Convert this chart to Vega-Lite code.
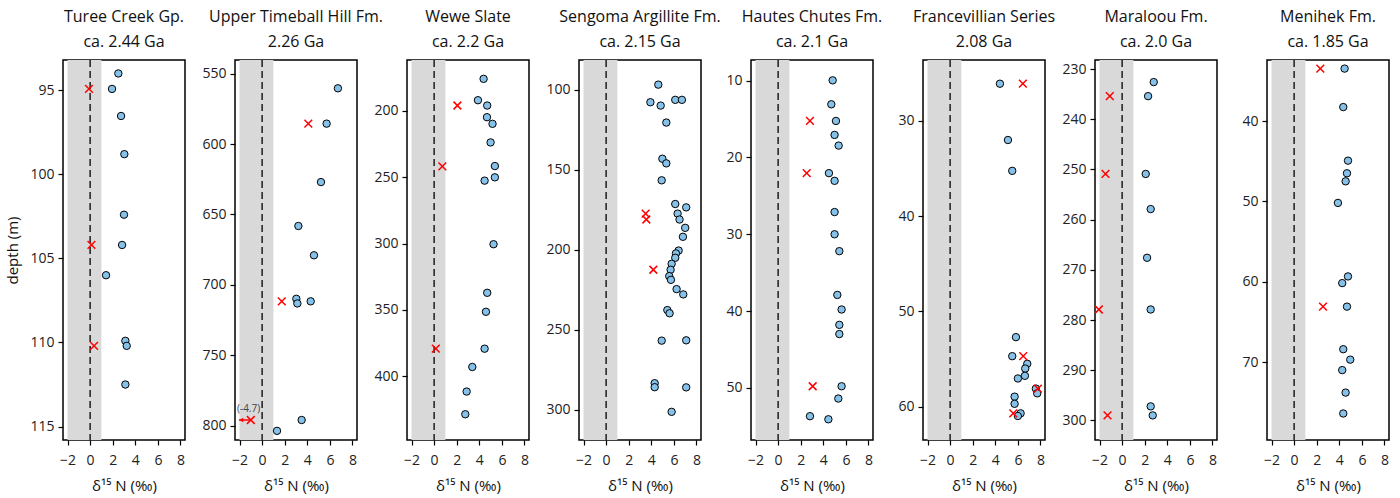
{
  "$schema": "https://vega.github.io/schema/vega-lite/v6.json",
  "padding": {"left": 5, "top": 8, "right": 5, "bottom": 0},
  "background": "white",
  "spacing": 50,
  "bounds": "flush",
  "config": {
    "font": "Open Sans",
    "view": {"stroke": "black", "strokeWidth": 1.5},
    "axis": {"grid": false, "domain": false, "format": "d", "tickColor": "black", "tickWidth": 1.2, "tickSize": 5, "tickCount": 20, "labelFont": "Open Sans", "labelFontSize": 14, "labelColor": "#222", "labelPadding": 4, "titleFont": "Open Sans", "titleFontSize": 15, "titleFontWeight": "normal", "titleColor": "#111", "labelOverlap": false, "labelFlush": false},
    "axisX": {"titlePadding": 11, "labelPadding": 8},
    "axisY": {"titlePadding": 9},
    "title": {"font": "Open Sans", "fontSize": 16, "fontWeight": "normal", "color": "#111", "lineHeight": 25, "offset": 9}
  },
  "datasets": {
    "pts": [
      {"p":1,"t":"c","n":2.5,"d":94.0},{"p":1,"t":"c","n":1.94,"d":94.92},{"p":1,"t":"x","n":-0.1,"d":94.92},{"p":1,"t":"c","n":2.74,"d":96.53},{"p":1,"t":"c","n":3.03,"d":98.8},{"p":1,"t":"c","n":3.0,"d":102.4},{"p":1,"t":"c","n":2.83,"d":104.2},{"p":1,"t":"x","n":0.12,"d":104.2},{"p":1,"t":"c","n":1.41,"d":106.0},{"p":1,"t":"c","n":3.12,"d":109.9},{"p":1,"t":"c","n":3.24,"d":110.2},{"p":1,"t":"x","n":0.35,"d":110.2},{"p":1,"t":"c","n":3.12,"d":112.5},
      {"p":2,"t":"c","n":6.71,"d":560.4},{"p":2,"t":"c","n":5.71,"d":585.5},{"p":2,"t":"x","n":4.09,"d":585.5},{"p":2,"t":"c","n":5.21,"d":627},{"p":2,"t":"c","n":3.21,"d":658.2},{"p":2,"t":"c","n":4.59,"d":679},{"p":2,"t":"c","n":3.03,"d":709.9},{"p":2,"t":"c","n":3.12,"d":713.2},{"p":2,"t":"c","n":4.3,"d":711.7},{"p":2,"t":"x","n":1.74,"d":711.7},{"p":2,"t":"c","n":3.5,"d":796},{"p":2,"t":"x","n":-1.0,"d":796},{"p":2,"t":"c","n":1.32,"d":803.7},
      {"p":3,"t":"c","n":4.38,"d":175.9},{"p":3,"t":"c","n":3.88,"d":192},{"p":3,"t":"c","n":4.7,"d":196},{"p":3,"t":"x","n":2.06,"d":196},{"p":3,"t":"c","n":4.68,"d":204.8},{"p":3,"t":"c","n":5.17,"d":209.8},{"p":3,"t":"c","n":5.0,"d":223.8},{"p":3,"t":"c","n":5.38,"d":241.6},{"p":3,"t":"x","n":0.73,"d":241.8},{"p":3,"t":"c","n":5.38,"d":250.1},{"p":3,"t":"c","n":4.47,"d":252.6},{"p":3,"t":"c","n":5.26,"d":300.5},{"p":3,"t":"c","n":4.7,"d":337.1},{"p":3,"t":"c","n":4.59,"d":351.4},{"p":3,"t":"c","n":4.47,"d":379.2},{"p":3,"t":"x","n":0.15,"d":379.2},{"p":3,"t":"c","n":3.38,"d":393},{"p":3,"t":"c","n":2.88,"d":411.5},{"p":3,"t":"c","n":2.76,"d":428.6},
      {"p":4,"t":"c","n":4.62,"d":96.9},{"p":4,"t":"c","n":3.92,"d":107.9},{"p":4,"t":"c","n":4.83,"d":110.0},{"p":4,"t":"c","n":6.12,"d":106.4},{"p":4,"t":"c","n":6.71,"d":106.4},{"p":4,"t":"c","n":5.33,"d":120.6},{"p":4,"t":"c","n":4.98,"d":143.2},{"p":4,"t":"c","n":5.33,"d":146.1},{"p":4,"t":"c","n":4.92,"d":156.7},{"p":4,"t":"c","n":6.12,"d":171.5},{"p":4,"t":"c","n":7.09,"d":173.6},{"p":4,"t":"c","n":6.33,"d":177.5},{"p":4,"t":"x","n":3.5,"d":177.5},{"p":4,"t":"x","n":3.56,"d":181.2},{"p":4,"t":"c","n":6.5,"d":181.2},{"p":4,"t":"c","n":7.0,"d":186.4},{"p":4,"t":"c","n":6.8,"d":192.0},{"p":4,"t":"c","n":6.42,"d":200.6},{"p":4,"t":"c","n":6.18,"d":202.4},{"p":4,"t":"c","n":6.12,"d":205.1},{"p":4,"t":"c","n":5.8,"d":208.9},{"p":4,"t":"c","n":5.71,"d":212.6},{"p":4,"t":"x","n":4.18,"d":212.6},{"p":4,"t":"c","n":5.59,"d":216.6},{"p":4,"t":"c","n":5.74,"d":218.9},{"p":4,"t":"c","n":6.24,"d":224.7},{"p":4,"t":"c","n":6.83,"d":228.0},{"p":4,"t":"c","n":5.42,"d":237.8},{"p":4,"t":"c","n":5.62,"d":239.8},{"p":4,"t":"c","n":4.92,"d":256.9},{"p":4,"t":"c","n":7.09,"d":256.7},{"p":4,"t":"c","n":4.3,"d":283.5},{"p":4,"t":"c","n":4.3,"d":286.0},{"p":4,"t":"c","n":7.09,"d":286.1},{"p":4,"t":"c","n":5.8,"d":301.4},
      {"p":5,"t":"c","n":4.83,"d":9.95},{"p":5,"t":"c","n":4.71,"d":13.07},{"p":5,"t":"c","n":5.12,"d":15.24},{"p":5,"t":"x","n":2.82,"d":15.24},{"p":5,"t":"c","n":5.0,"d":17.06},{"p":5,"t":"c","n":5.36,"d":18.45},{"p":5,"t":"c","n":4.5,"d":22.04},{"p":5,"t":"x","n":2.53,"d":22.04},{"p":5,"t":"c","n":5.0,"d":23.04},{"p":5,"t":"c","n":5.0,"d":27.11},{"p":5,"t":"c","n":5.0,"d":30.0},{"p":5,"t":"c","n":5.42,"d":32.2},{"p":5,"t":"c","n":5.24,"d":37.9},{"p":5,"t":"c","n":5.62,"d":39.8},{"p":5,"t":"c","n":5.42,"d":41.8},{"p":5,"t":"c","n":5.42,"d":43.0},{"p":5,"t":"c","n":5.62,"d":49.8},{"p":5,"t":"x","n":3.06,"d":49.8},{"p":5,"t":"c","n":5.33,"d":51.4},{"p":5,"t":"c","n":2.82,"d":53.7},{"p":5,"t":"c","n":4.45,"d":54.1},
      {"p":6,"t":"c","n":4.41,"d":26.09},{"p":6,"t":"x","n":6.44,"d":26.09},{"p":6,"t":"c","n":5.12,"d":32.0},{"p":6,"t":"c","n":5.5,"d":35.24},{"p":6,"t":"c","n":5.83,"d":52.7},{"p":6,"t":"c","n":5.5,"d":54.7},{"p":6,"t":"x","n":6.47,"d":54.7},{"p":6,"t":"c","n":6.83,"d":55.5},{"p":6,"t":"c","n":6.65,"d":56.0},{"p":6,"t":"c","n":6.62,"d":56.76},{"p":6,"t":"c","n":6.0,"d":57.04},{"p":6,"t":"c","n":7.59,"d":58.1},{"p":6,"t":"x","n":7.77,"d":58.1},{"p":6,"t":"c","n":7.71,"d":58.6},{"p":6,"t":"c","n":5.71,"d":58.95},{"p":6,"t":"c","n":5.71,"d":59.7},{"p":6,"t":"x","n":5.59,"d":60.7},{"p":6,"t":"c","n":6.24,"d":60.7},{"p":6,"t":"c","n":6.0,"d":60.98},
      {"p":7,"t":"c","n":2.8,"d":232.6},{"p":7,"t":"c","n":2.3,"d":235.4},{"p":7,"t":"x","n":-1.09,"d":235.4},{"p":7,"t":"c","n":2.09,"d":250.9},{"p":7,"t":"x","n":-1.47,"d":250.9},{"p":7,"t":"c","n":2.53,"d":257.9},{"p":7,"t":"c","n":2.21,"d":267.6},{"p":7,"t":"c","n":2.53,"d":277.9},{"p":7,"t":"x","n":-2.06,"d":277.9},{"p":7,"t":"c","n":2.53,"d":297.2},{"p":7,"t":"c","n":2.71,"d":299.0},{"p":7,"t":"x","n":-1.29,"d":299.0},
      {"p":8,"t":"c","n":4.47,"d":33.47},{"p":8,"t":"x","n":2.32,"d":33.47},{"p":8,"t":"c","n":4.35,"d":38.26},{"p":8,"t":"c","n":4.77,"d":44.93},{"p":8,"t":"c","n":4.68,"d":46.5},{"p":8,"t":"c","n":4.56,"d":47.5},{"p":8,"t":"c","n":3.88,"d":50.19},{"p":8,"t":"c","n":4.77,"d":59.34},{"p":8,"t":"c","n":4.26,"d":60.17},{"p":8,"t":"c","n":4.68,"d":63.1},{"p":8,"t":"x","n":2.56,"d":63.1},{"p":8,"t":"c","n":4.35,"d":68.4},{"p":8,"t":"c","n":4.97,"d":69.7},{"p":8,"t":"c","n":4.26,"d":71.0},{"p":8,"t":"c","n":4.56,"d":73.8},{"p":8,"t":"c","n":4.35,"d":76.4}
    ]
  },
  "hconcat": [
    {
      "width": 122, "height": 380,
      "title": {"text": ["Turee Creek Gp.", "ca. 2.44 Ga"]},
      "layer": [
        {"data": {"values": [{"lo": -2, "hi": 1}]}, "mark": {"type": "rect", "color": "#d9d9d9"}, "encoding": {"x": {"field": "lo", "type": "quantitative", "scale": {"domain": [-2.4, 8.4], "nice": false, "zero": false}, "axis": {"values": [-2, 0, 2, 4, 6, 8], "title": "δ¹⁵ N (‰)"}}, "x2": {"field": "hi"}}},
        {"data": {"values": [{"z": 0}]}, "mark": {"type": "rule", "strokeDash": [7, 4], "color": "black", "strokeWidth": 1.3}, "encoding": {"x": {"field": "z", "type": "quantitative"}}},
        {"data": {"name": "pts"}, "transform": [{"filter": "datum.p == 1 && datum.t == 'c'"}], "mark": {"type": "point", "shape": "circle", "filled": true, "fill": "#85c1e9", "stroke": "black", "strokeWidth": 1, "size": 55, "opacity": 1}, "encoding": {"x": {"field": "n", "type": "quantitative"}, "y": {"field": "d", "type": "quantitative", "scale": {"domain": [93.2, 115.8], "reverse": true, "nice": false, "zero": false}, "axis": {"values": [95, 100, 105, 110, 115], "title": "depth (m)"}}}},
        {"data": {"name": "pts"}, "transform": [{"filter": "datum.p == 1 && datum.t == 'x'"}], "mark": {"type": "point", "shape": "M-1,-1L1,1M-1,1L1,-1", "filled": false, "stroke": "red", "strokeWidth": 1.5, "size": 60, "opacity": 1}, "encoding": {"x": {"field": "n", "type": "quantitative"}, "y": {"field": "d", "type": "quantitative"}}}
      ]
    },
    {
      "width": 122, "height": 380,
      "title": {"text": ["Upper Timeball Hill Fm.", "2.26 Ga"]},
      "layer": [
        {"data": {"values": [{"lo": -2, "hi": 1}]}, "mark": {"type": "rect", "color": "#d9d9d9"}, "encoding": {"x": {"field": "lo", "type": "quantitative", "scale": {"domain": [-2.4, 8.4], "nice": false, "zero": false}, "axis": {"values": [-2, 0, 2, 4, 6, 8], "title": "δ¹⁵ N (‰)"}}, "x2": {"field": "hi"}}},
        {"data": {"values": [{"z": 0}]}, "mark": {"type": "rule", "strokeDash": [7, 4], "color": "black", "strokeWidth": 1.3}, "encoding": {"x": {"field": "z", "type": "quantitative"}}},
        {"data": {"name": "pts"}, "transform": [{"filter": "datum.p == 2 && datum.t == 'c'"}], "mark": {"type": "point", "shape": "circle", "filled": true, "fill": "#85c1e9", "stroke": "black", "strokeWidth": 1, "size": 55, "opacity": 1}, "encoding": {"x": {"field": "n", "type": "quantitative"}, "y": {"field": "d", "type": "quantitative", "scale": {"domain": [540.3, 810.2], "reverse": true, "nice": false, "zero": false}, "axis": {"values": [550, 600, 650, 700, 750, 800], "title": null}}}},
        {"data": {"values": [{"a": -1.0, "b": -2.05, "d": 796}]}, "mark": {"type": "rule", "color": "red", "strokeWidth": 1.5}, "encoding": {"x": {"field": "a", "type": "quantitative"}, "x2": {"field": "b"}, "y": {"field": "d", "type": "quantitative"}}},
        {"data": {"values": [{"b": -1.85, "d": 796}]}, "mark": {"type": "point", "shape": "triangle-left", "filled": true, "color": "red", "size": 22, "opacity": 1}, "encoding": {"x": {"field": "b", "type": "quantitative"}, "y": {"field": "d", "type": "quantitative"}}},
        {"data": {"values": [{"b": -1.2, "d": 788.5, "s": "(-4.7)"}]}, "mark": {"type": "text", "fontSize": 10, "color": "#444", "font": "Open Sans"}, "encoding": {"x": {"field": "b", "type": "quantitative"}, "y": {"field": "d", "type": "quantitative"}, "text": {"field": "s"}}},
        {"data": {"name": "pts"}, "transform": [{"filter": "datum.p == 2 && datum.t == 'x'"}], "mark": {"type": "point", "shape": "M-1,-1L1,1M-1,1L1,-1", "filled": false, "stroke": "red", "strokeWidth": 1.5, "size": 60, "opacity": 1}, "encoding": {"x": {"field": "n", "type": "quantitative"}, "y": {"field": "d", "type": "quantitative"}}}
      ]
    },
    {
      "width": 122, "height": 380,
      "title": {"text": ["Wewe Slate", "ca. 2.2 Ga"]},
      "layer": [
        {"data": {"values": [{"lo": -2, "hi": 1}]}, "mark": {"type": "rect", "color": "#d9d9d9"}, "encoding": {"x": {"field": "lo", "type": "quantitative", "scale": {"domain": [-2.4, 8.4], "nice": false, "zero": false}, "axis": {"values": [-2, 0, 2, 4, 6, 8], "title": "δ¹⁵ N (‰)"}}, "x2": {"field": "hi"}}},
        {"data": {"values": [{"z": 0}]}, "mark": {"type": "rule", "strokeDash": [7, 4], "color": "black", "strokeWidth": 1.3}, "encoding": {"x": {"field": "z", "type": "quantitative"}}},
        {"data": {"name": "pts"}, "transform": [{"filter": "datum.p == 3 && datum.t == 'c'"}], "mark": {"type": "point", "shape": "circle", "filled": true, "fill": "#85c1e9", "stroke": "black", "strokeWidth": 1, "size": 55, "opacity": 1}, "encoding": {"x": {"field": "n", "type": "quantitative"}, "y": {"field": "d", "type": "quantitative", "scale": {"domain": [161.7, 448], "reverse": true, "nice": false, "zero": false}, "axis": {"values": [200, 250, 300, 350, 400], "title": null}}}},
        {"data": {"name": "pts"}, "transform": [{"filter": "datum.p == 3 && datum.t == 'x'"}], "mark": {"type": "point", "shape": "M-1,-1L1,1M-1,1L1,-1", "filled": false, "stroke": "red", "strokeWidth": 1.5, "size": 60, "opacity": 1}, "encoding": {"x": {"field": "n", "type": "quantitative"}, "y": {"field": "d", "type": "quantitative"}}}
      ]
    },
    {
      "width": 122, "height": 380,
      "title": {"text": ["Sengoma Argillite Fm.", "ca. 2.15 Ga"]},
      "layer": [
        {"data": {"values": [{"lo": -2, "hi": 1}]}, "mark": {"type": "rect", "color": "#d9d9d9"}, "encoding": {"x": {"field": "lo", "type": "quantitative", "scale": {"domain": [-2.4, 8.4], "nice": false, "zero": false}, "axis": {"values": [-2, 0, 2, 4, 6, 8], "title": "δ¹⁵ N (‰)"}}, "x2": {"field": "hi"}}},
        {"data": {"values": [{"z": 0}]}, "mark": {"type": "rule", "strokeDash": [7, 4], "color": "black", "strokeWidth": 1.3}, "encoding": {"x": {"field": "z", "type": "quantitative"}}},
        {"data": {"name": "pts"}, "transform": [{"filter": "datum.p == 4 && datum.t == 'c'"}], "mark": {"type": "point", "shape": "circle", "filled": true, "fill": "#85c1e9", "stroke": "black", "strokeWidth": 1, "size": 55, "opacity": 1}, "encoding": {"x": {"field": "n", "type": "quantitative"}, "y": {"field": "d", "type": "quantitative", "scale": {"domain": [81.5, 319], "reverse": true, "nice": false, "zero": false}, "axis": {"values": [100, 150, 200, 250, 300], "title": null}}}},
        {"data": {"name": "pts"}, "transform": [{"filter": "datum.p == 4 && datum.t == 'x'"}], "mark": {"type": "point", "shape": "M-1,-1L1,1M-1,1L1,-1", "filled": false, "stroke": "red", "strokeWidth": 1.5, "size": 60, "opacity": 1}, "encoding": {"x": {"field": "n", "type": "quantitative"}, "y": {"field": "d", "type": "quantitative"}}}
      ]
    },
    {
      "width": 122, "height": 380,
      "title": {"text": ["Hautes Chutes Fm.", "ca. 2.1 Ga"]},
      "layer": [
        {"data": {"values": [{"lo": -2, "hi": 1}]}, "mark": {"type": "rect", "color": "#d9d9d9"}, "encoding": {"x": {"field": "lo", "type": "quantitative", "scale": {"domain": [-2.4, 8.4], "nice": false, "zero": false}, "axis": {"values": [-2, 0, 2, 4, 6, 8], "title": "δ¹⁵ N (‰)"}}, "x2": {"field": "hi"}}},
        {"data": {"values": [{"z": 0}]}, "mark": {"type": "rule", "strokeDash": [7, 4], "color": "black", "strokeWidth": 1.3}, "encoding": {"x": {"field": "z", "type": "quantitative"}}},
        {"data": {"name": "pts"}, "transform": [{"filter": "datum.p == 5 && datum.t == 'c'"}], "mark": {"type": "point", "shape": "circle", "filled": true, "fill": "#85c1e9", "stroke": "black", "strokeWidth": 1, "size": 55, "opacity": 1}, "encoding": {"x": {"field": "n", "type": "quantitative"}, "y": {"field": "d", "type": "quantitative", "scale": {"domain": [7.3, 56.8], "reverse": true, "nice": false, "zero": false}, "axis": {"values": [10, 20, 30, 40, 50], "title": null}}}},
        {"data": {"name": "pts"}, "transform": [{"filter": "datum.p == 5 && datum.t == 'x'"}], "mark": {"type": "point", "shape": "M-1,-1L1,1M-1,1L1,-1", "filled": false, "stroke": "red", "strokeWidth": 1.5, "size": 60, "opacity": 1}, "encoding": {"x": {"field": "n", "type": "quantitative"}, "y": {"field": "d", "type": "quantitative"}}}
      ]
    },
    {
      "width": 122, "height": 380,
      "title": {"text": ["Francevillian Series", "2.08 Ga"]},
      "layer": [
        {"data": {"values": [{"lo": -2, "hi": 1}]}, "mark": {"type": "rect", "color": "#d9d9d9"}, "encoding": {"x": {"field": "lo", "type": "quantitative", "scale": {"domain": [-2.4, 8.4], "nice": false, "zero": false}, "axis": {"values": [-2, 0, 2, 4, 6, 8], "title": "δ¹⁵ N (‰)"}}, "x2": {"field": "hi"}}},
        {"data": {"values": [{"z": 0}]}, "mark": {"type": "rule", "strokeDash": [7, 4], "color": "black", "strokeWidth": 1.3}, "encoding": {"x": {"field": "z", "type": "quantitative"}}},
        {"data": {"name": "pts"}, "transform": [{"filter": "datum.p == 6 && datum.t == 'c'"}], "mark": {"type": "point", "shape": "circle", "filled": true, "fill": "#85c1e9", "stroke": "black", "strokeWidth": 1, "size": 55, "opacity": 1}, "encoding": {"x": {"field": "n", "type": "quantitative"}, "y": {"field": "d", "type": "quantitative", "scale": {"domain": [23.6, 63.5], "reverse": true, "nice": false, "zero": false}, "axis": {"values": [30, 40, 50, 60], "title": null}}}},
        {"data": {"name": "pts"}, "transform": [{"filter": "datum.p == 6 && datum.t == 'x'"}], "mark": {"type": "point", "shape": "M-1,-1L1,1M-1,1L1,-1", "filled": false, "stroke": "red", "strokeWidth": 1.5, "size": 60, "opacity": 1}, "encoding": {"x": {"field": "n", "type": "quantitative"}, "y": {"field": "d", "type": "quantitative"}}}
      ]
    },
    {
      "width": 122, "height": 380,
      "title": {"text": ["Maraloou Fm.", "ca. 2.0 Ga"]},
      "layer": [
        {"data": {"values": [{"lo": -2, "hi": 1}]}, "mark": {"type": "rect", "color": "#d9d9d9"}, "encoding": {"x": {"field": "lo", "type": "quantitative", "scale": {"domain": [-2.4, 8.4], "nice": false, "zero": false}, "axis": {"values": [-2, 0, 2, 4, 6, 8], "title": "δ¹⁵ N (‰)"}}, "x2": {"field": "hi"}}},
        {"data": {"values": [{"z": 0}]}, "mark": {"type": "rule", "strokeDash": [7, 4], "color": "black", "strokeWidth": 1.3}, "encoding": {"x": {"field": "z", "type": "quantitative"}}},
        {"data": {"name": "pts"}, "transform": [{"filter": "datum.p == 7 && datum.t == 'c'"}], "mark": {"type": "point", "shape": "circle", "filled": true, "fill": "#85c1e9", "stroke": "black", "strokeWidth": 1, "size": 55, "opacity": 1}, "encoding": {"x": {"field": "n", "type": "quantitative"}, "y": {"field": "d", "type": "quantitative", "scale": {"domain": [228.2, 303.9], "reverse": true, "nice": false, "zero": false}, "axis": {"values": [230, 240, 250, 260, 270, 280, 290, 300], "title": null}}}},
        {"data": {"name": "pts"}, "transform": [{"filter": "datum.p == 7 && datum.t == 'x'"}], "mark": {"type": "point", "shape": "M-1,-1L1,1M-1,1L1,-1", "filled": false, "stroke": "red", "strokeWidth": 1.5, "size": 60, "opacity": 1}, "encoding": {"x": {"field": "n", "type": "quantitative"}, "y": {"field": "d", "type": "quantitative"}}}
      ]
    },
    {
      "width": 122, "height": 380,
      "title": {"text": ["Menihek Fm.", "ca. 1.85 Ga"]},
      "layer": [
        {"data": {"values": [{"lo": -2, "hi": 1}]}, "mark": {"type": "rect", "color": "#d9d9d9"}, "encoding": {"x": {"field": "lo", "type": "quantitative", "scale": {"domain": [-2.4, 8.4], "nice": false, "zero": false}, "axis": {"values": [-2, 0, 2, 4, 6, 8], "title": "δ¹⁵ N (‰)"}}, "x2": {"field": "hi"}}},
        {"data": {"values": [{"z": 0}]}, "mark": {"type": "rule", "strokeDash": [7, 4], "color": "black", "strokeWidth": 1.3}, "encoding": {"x": {"field": "z", "type": "quantitative"}}},
        {"data": {"name": "pts"}, "transform": [{"filter": "datum.p == 8 && datum.t == 'c'"}], "mark": {"type": "point", "shape": "circle", "filled": true, "fill": "#85c1e9", "stroke": "black", "strokeWidth": 1, "size": 55, "opacity": 1}, "encoding": {"x": {"field": "n", "type": "quantitative"}, "y": {"field": "d", "type": "quantitative", "scale": {"domain": [32.4, 79.7], "reverse": true, "nice": false, "zero": false}, "axis": {"values": [40, 50, 60, 70], "title": null}}}},
        {"data": {"name": "pts"}, "transform": [{"filter": "datum.p == 8 && datum.t == 'x'"}], "mark": {"type": "point", "shape": "M-1,-1L1,1M-1,1L1,-1", "filled": false, "stroke": "red", "strokeWidth": 1.5, "size": 60, "opacity": 1}, "encoding": {"x": {"field": "n", "type": "quantitative"}, "y": {"field": "d", "type": "quantitative"}}}
      ]
    }
  ]
}
